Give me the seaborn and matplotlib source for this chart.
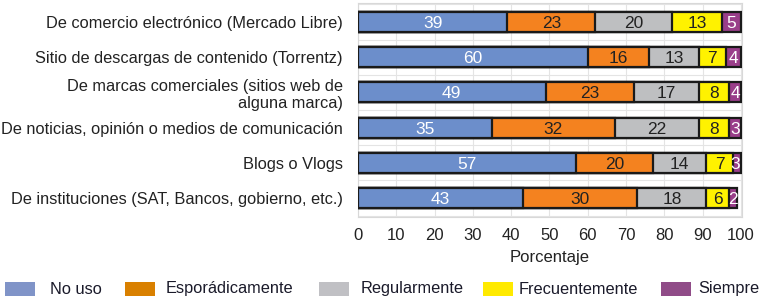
import numpy as np
import pandas as pd
import matplotlib
matplotlib.use("Agg")
import matplotlib.pyplot as plt
import seaborn as sns
from matplotlib.patches import Rectangle

categories = [
    "De comercio electrónico (Mercado Libre)",
    "Sitio de descargas de contenido (Torrentz)",
    "De marcas comerciales (sitios web de\nalguna marca)",
    "De noticias, opinión o medios de comunicación",
    "Blogs o Vlogs",
    "De instituciones (SAT, Bancos, gobierno, etc.)",
]
levels = ["No uso", "Esporádicamente", "Regularmente", "Frecuentemente", "Siempre"]
no_uso = [39, 60, 49, 35, 57, 43]
esporadicamente = [23, 16, 23, 32, 20, 30]
regularmente = [20, 13, 17, 22, 14, 18]
frecuentemente = [13, 7, 8, 8, 7, 6]
siempre = [5, 4, 4, 3, 3, 2]
xticks = list(range(0, 101, 10))

bar_colors = ["#6c8ecb", "#f4821f", "#bebfc1", "#fff200", "#9a3e8a"]
legend_colors = ["#8094c8", "#d98000", "#c0c0c4", "#ffea00", "#904c88"]
text_colors = ["white", "#222222", "#222222", "#222222", "white"]

sns.set_theme(style="white")
plt.rcParams["font.family"] = ["Liberation Sans", "DejaVu Sans"]

series = [no_uso, esporadicamente, regularmente, frecuentemente, siempre]
vals = np.array(series, dtype=float)
cum = np.cumsum(vals, axis=0)

W, H = 761, 302
fig = plt.figure(figsize=(W / 100, H / 100), dpi=100)
ax = fig.add_axes([358 / W, 1 - 217 / H, 384 / W, 214 / H])

for i in range(len(levels) - 1, -1, -1):
    df = pd.DataFrame({"cat": categories, "val": np.minimum(cum[i], 100)})
    sns.barplot(data=df, x="val", y="cat", orient="h", color=bar_colors[i],
                width=0.57, edgecolor="#1a1a1a", linewidth=1.6, saturation=1,
                ax=ax, zorder=3)

for i in range(len(levels)):
    starts = cum[i] - vals[i]
    for j in range(len(categories)):
        xc = min(starts[j] + vals[i][j] / 2, 98.6 if i == 4 else 100)
        ax.text(xc, j + 0.04, f"{int(vals[i][j])}", ha="center", va="center",
                color=text_colors[i], fontsize=12.5, zorder=5)

ax.set_xlim(0, 100.3)
ax.set_ylim(len(categories) - 0.46, -0.54)
ax.set_xticks(xticks)
ax.set_xticklabels([str(t) for t in xticks], fontsize=12, color="#222222")
ax.set_yticks(range(len(categories)))
ax.set_yticklabels(categories, fontsize=11.8, color="#222222")
ax.set_yticks(np.arange(-0.5, len(categories), 1), minor=True)
ax.tick_params(axis="y", which="both", length=0, pad=11)
ax.tick_params(axis="x", length=0, pad=8)
ax.set_xlabel("Porcentaje", fontsize=12, color="#222222", labelpad=5)
ax.set_ylabel("")
ax.grid(True, axis="x", color="#e4e4e4", linewidth=0.8, zorder=0)
ax.grid(True, axis="y", which="minor", color="#e4e4e4", linewidth=0.8, zorder=0)
for s in ax.spines.values():
    s.set_color("#d8d8d8")
    s.set_linewidth(0.8)

# legend (manually laid out, figure pixel positions)
patch_left = [5, 125, 319, 483, 661]
text_pos = [50, 166, 361, 519, 759]
text_ha = ["left", "left", "left", "left", "right"]
for c, lab, px, tx, ha in zip(legend_colors, levels, patch_left, text_pos, text_ha):
    fig.patches.append(Rectangle((px / W, 1 - 296 / H), 30 / W, 14 / H,
                                 transform=fig.transFigure, facecolor=c,
                                 edgecolor="none"))
    fig.text(tx / W, 1 - 289 / H, lab, ha=ha, va="center",
             fontsize=11.8, color="#1a1a2a")

fig.savefig("out.png", dpi=100)
